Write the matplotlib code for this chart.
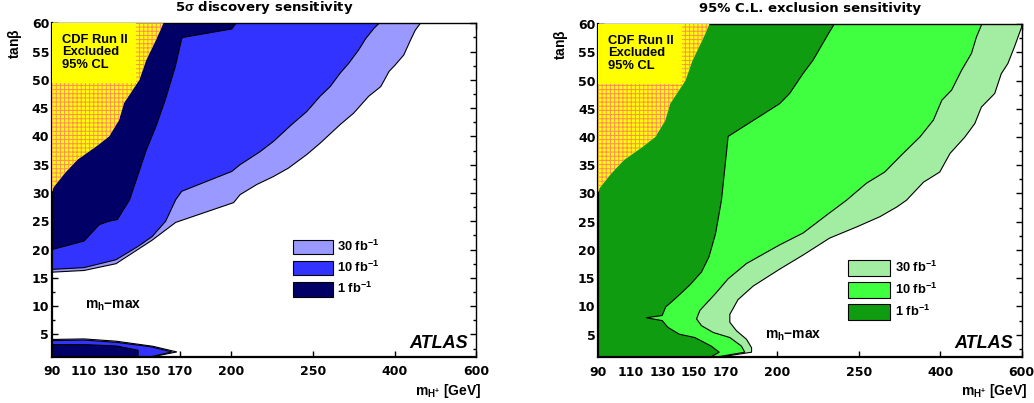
import numpy as np
import matplotlib
matplotlib.use('Agg')
import matplotlib.pyplot as plt
from matplotlib.patches import Patch, Rectangle

plt.rcParams['font.family'] = ['Liberation Sans', 'DejaVu Sans']
plt.rcParams['font.weight'] = 'bold'
plt.rcParams['mathtext.fontset'] = 'custom'
plt.rcParams['mathtext.rm'] = 'Liberation Sans:bold'
plt.rcParams['mathtext.it'] = 'Liberation Sans:bold'
plt.rcParams['mathtext.bf'] = 'Liberation Sans:bold'
plt.rcParams['hatch.linewidth'] = 0.7

# x axis: tick values and their spacing on the (non-linear) original axis
mass_ticks = [90, 110, 130, 150, 170, 200, 250, 400, 600]
mass_pos = [0, 32, 64, 96, 128, 179, 261, 342.5, 424]
tb_min, tb_max = 1, 60

# CDF Run II excluded region boundary
cdf_m = [90, 91, 98, 106, 117.5, 125.7, 131.9, 135, 140.4, 144.6, 148.9, 155.4, 159.6]
cdf_tb = [30.2, 31.0, 33.5, 35.9, 38.2, 40.0, 42.9, 45.9, 48.2, 50.0, 53.5, 57.3, 60.0]

# 5 sigma discovery contours (upper region)
disc30_m = [90, 110, 130, 152.3, 167.3, 201.6, 205.5, 215.7, 225.8, 235, 246.2, 263, 300,
            324.6, 352.4, 374.6, 390, 401.2, 422.7, 439, 451, 463.4]
disc30_tb = [16.0, 16.3, 17.5, 21.6, 24.8, 28.3, 29.7, 31.5, 32.9, 34.4, 36.8, 38.8, 42.1,
             44.1, 47.1, 48.8, 51.5, 52.6, 54.4, 57.0, 58.8, 60.0]
disc10_m = [90, 110, 130, 144, 152.6, 161, 167.3, 171, 200.4, 205.5, 217.7, 225.8, 237,
            246.2, 263, 281.5, 300, 315.5, 334, 347, 362, 371.5]
disc10_tb = [16.5, 16.8, 18.2, 20.6, 22.3, 25.0, 28.8, 30.3, 33.8, 35.0, 37.3, 39.1, 42.1,
             44.4, 47.1, 48.8, 51.2, 52.9, 55.3, 57.3, 59.1, 60.0]
disc1_m = [90, 110, 119.5, 125.5, 130.8, 138.5, 148.9, 155, 160.8, 167, 171, 171.6, 200.4, 203]
disc1_tb = [20.0, 21.5, 24.4, 25.0, 25.3, 28.8, 37.6, 41.8, 46.5, 52.3, 57.3, 57.5, 59.0, 60.0]

# 5 sigma discovery contours (low tan beta region)
disc30_low_m = [90, 110, 130, 153, 168, 152]
disc30_low_tb = [4.1, 4.2, 3.8, 2.9, 1.9, 1.0]
disc10_low_m = [90, 110, 130, 152, 165, 151]
disc10_low_tb = [3.9, 4.0, 3.6, 2.8, 1.9, 1.0]
disc1_low_m = [90, 110, 130, 143.8, 143.8]
disc1_low_tb = [3.2, 3.2, 2.95, 2.2, 1.0]

# 95% CL exclusion contours
excl30_m = [165, 185, 185, 182, 176.1, 172.2, 172.2, 177, 185.9, 201.6, 215.9, 232.1, 248.8,
            288.9, 319.6, 337.6, 369, 399, 424, 460.5, 484.9, 501, 533.7, 549.8, 566, 582.4, 600]
excl30_tb = [1.0, 1.9, 2.7, 4.2, 5.7, 7.2, 8.6, 11.2, 13.6, 16.6, 19.1, 22.1, 24.1,
             25.9, 27.6, 28.8, 32.0, 33.8, 37.1, 40.0, 42.4, 45.3, 47.7, 51.2, 53.0, 56.0, 59.5]
excl10_m = [163, 181, 179, 172.2, 161.9, 154.6, 151.5, 153.6, 163.4, 171.2, 182, 201.6, 215.9,
            230.4, 242.4, 263.7, 297.6, 331.5, 362.4, 387.3, 403.7, 427.8, 452.2, 476.6, 488.8,
            501, 503]
excl10_tb = [1.0, 1.9, 3.0, 4.5, 5.4, 6.6, 7.8, 9.3, 12.3, 14.9, 17.6, 20.9, 23.0,
             26.2, 28.8, 31.8, 33.8, 37.1, 40.0, 43.0, 46.5, 48.3, 51.8, 54.8, 57.7,
             59.8, 60.0]
excl1_m = [160, 165.7, 160.6, 150.4, 140.6, 133.6, 130, 120, 130, 132.2, 139, 147.3, 154.6,
           159.3, 163.4, 167.1, 171.2, 201.6, 207.7, 215.8, 222, 228, 232, 235]
excl1_tb = [1.0, 1.9, 3.0, 4.5, 5.1, 6.3, 7.5, 8.0, 8.4, 9.9, 11.6, 13.8, 16.1,
            18.8, 22.9, 28.8, 40.1, 45.9, 47.7, 51.2, 53.6, 56.6, 58.6, 60.0]

lumi_labels = [r'30 fb$^{-1}$', r'10 fb$^{-1}$', r'1 fb$^{-1}$']
blues = ['#9999ff', '#3333ff', '#000066']
greens = ['#a3eda3', '#40ff40', '#109c10']


def fwd(m):
    return np.interp(m, mass_ticks, mass_pos)


def inv(p):
    return np.interp(p, mass_pos, mass_ticks)


def region(ax, m, tb, color, corners, edge='black'):
    xs = list(m) + [c[0] for c in corners]
    ys = list(tb) + [c[1] for c in corners]
    return ax.fill(xs, ys, facecolor=color, edgecolor=edge, lw=0.8, zorder=2)[0]


def setup(ax, title):
    ax.set_xscale('function', functions=(fwd, inv))
    ax.set_xlim(90, 600)
    ax.set_ylim(tb_min, tb_max)
    ax.set_xticks(mass_ticks)
    ax.set_xticklabels([str(t) for t in mass_ticks])
    ax.set_xticks([], minor=True)
    ax.set_yticks(np.arange(5, 61, 5))
    ax.set_yticks(np.arange(2.5, 60, 5), minor=True)
    ax.tick_params(which='both', direction='in', top=True, right=True, width=1,
                   labelsize=9, labelfontfamily='DejaVu Sans')
    ax.tick_params(which='major', length=4)
    ax.tick_params(which='minor', length=2)
    ax.tick_params(axis='x', pad=6)
    ax.tick_params(axis='y', pad=2)
    for s in ['left', 'bottom']:
        ax.spines[s].set_linewidth(1.6)
    for s in ['top', 'right']:
        ax.spines[s].set_linewidth(1.0)
    ax.set_title(title, fontsize=9.5, fontweight='bold', family='DejaVu Sans', pad=9)
    ax.text(-0.087, 0.985, r'tan$\beta$', transform=ax.transAxes, rotation=90,
            ha='center', va='top', fontsize=10)
    ax.text(1.012, -0.075, r'm$_{\mathregular{H^{+}}}$ [GeV]', transform=ax.transAxes,
            ha='right', va='top', fontsize=10)
    ax.text(0.98, 0.027, 'ATLAS', transform=ax.transAxes, ha='right', va='baseline',
            fontsize=13, fontstyle='italic', zorder=5)

    # CDF excluded area with hatching and label box
    cdf = region(ax, cdf_m, cdf_tb, '#ffff00', [(90, 60)], edge='#ff8c5a')
    cdf.set_hatch('++++')
    cdf.set_linewidth(0)
    cdf.set_zorder(3)
    ax.add_patch(Rectangle((0, 0.82), 0.197, 0.18, transform=ax.transAxes,
                           facecolor='#ffff00', edgecolor='none', zorder=3.5))
    ax.text(0.024, 0.968, 'CDF Run II\nExcluded\n95% CL', transform=ax.transAxes,
            ha='left', va='top', fontsize=9.3, linespacing=1.05, zorder=4)


fig = plt.figure(figsize=(10.34, 4.03), dpi=100)
ax1 = fig.add_axes([0.0503, 0.1141, 0.4101, 0.8281])
ax2 = fig.add_axes([0.5786, 0.1134, 0.4095, 0.8270])

# left: discovery
region(ax1, disc30_m, disc30_tb, blues[0], [(90, 60)])
region(ax1, disc10_m, disc10_tb, blues[1], [(90, 60)])
region(ax1, disc1_m, disc1_tb, blues[2], [(90, 60)])
region(ax1, disc30_low_m, disc30_low_tb, blues[0], [(90, 1)])
region(ax1, disc10_low_m, disc10_low_tb, blues[1], [(90, 1)])
region(ax1, disc1_low_m, disc1_low_tb, blues[2], [(90, 1)])
setup(ax1, r'5$\sigma$ discovery sensitivity')
ax1.text(0.078, 0.144, r'm$_{\mathregular{h}}$$-$max', transform=ax1.transAxes,
         ha='left', va='baseline', fontsize=10)
h1 = [Patch(facecolor=c, edgecolor='black', lw=0.8) for c in blues]
ax1.legend(h1, lumi_labels, loc='upper left', bbox_to_anchor=(0.568, 0.353),
           frameon=False, fontsize=9.3, handlelength=3.1, handleheight=1.37,
           handletextpad=0.31, labelspacing=0.45, borderpad=0, borderaxespad=0)

# right: exclusion
region(ax2, excl30_m, excl30_tb, greens[0], [(600, 60), (90, 60), (90, 1)])
region(ax2, excl10_m, excl10_tb, greens[1], [(90, 60), (90, 1)])
region(ax2, excl1_m, excl1_tb, greens[2], [(90, 60), (90, 1)])
setup(ax2, '95% C.L. exclusion sensitivity')
ax2.text(0.394, 0.055, r'm$_{\mathregular{h}}$$-$max', transform=ax2.transAxes,
         ha='left', va='baseline', fontsize=10)
h2 = [Patch(facecolor=c, edgecolor='black', lw=0.8) for c in greens]
ax2.legend(h2, lumi_labels, loc='upper left', bbox_to_anchor=(0.590, 0.292),
           frameon=False, fontsize=9.3, handlelength=3.25, handleheight=1.5,
           handletextpad=0.38, labelspacing=0.48, borderpad=0, borderaxespad=0)

fig.savefig('out.png', dpi=100)
